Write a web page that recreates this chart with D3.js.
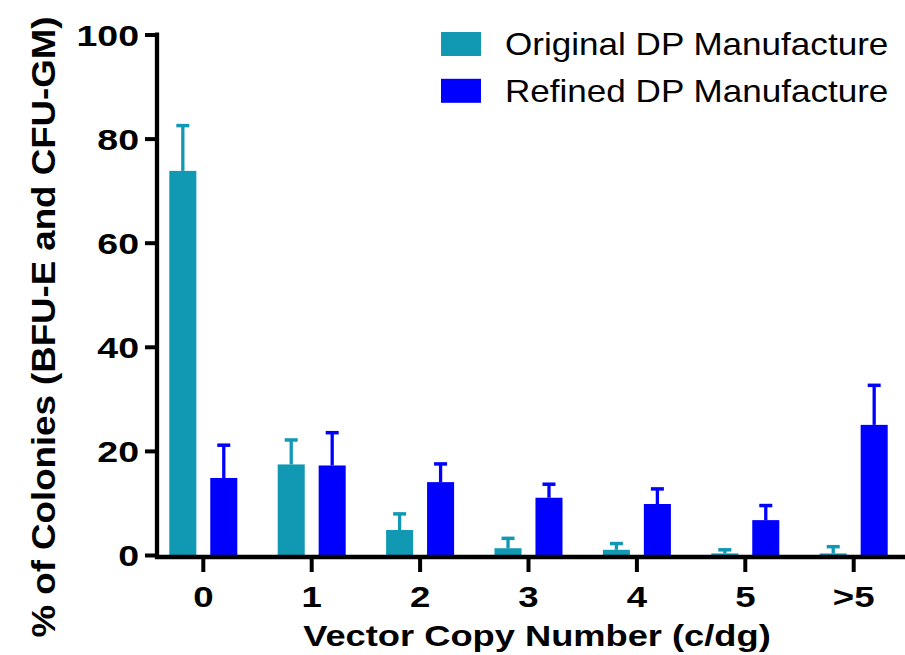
<!DOCTYPE html>
<html>
<head>
<meta charset="utf-8">
<script src="https://cdn.jsdelivr.net/npm/d3@7"></script>
<style>
  body { margin: 0; background: #fff; }
  text { font-family: "Liberation Sans", Arial, sans-serif; fill: #000; }
</style>
</head>
<body>
<svg id="canvas"></svg>
<script>
const categories = ["0", "1", "2", "3", "4", "5", ">5"];
const seriesNames = ["Original DP Manufacture", "Refined DP Manufacture"];
const originalMean = [73.8, 17.4, 4.8, 1.3, 1.0, 0.3, 0.3];
const originalErr = [8.7, 4.7, 3.1, 1.9, 1.2, 0.7, 1.3];
const refinedMean = [14.8, 17.2, 14.0, 11.0, 9.8, 6.7, 25.0];
const refinedErr = [6.3, 6.3, 3.5, 2.6, 2.9, 2.8, 7.6];
const yTicks = [0, 20, 40, 60, 80, 100];
const colors = ["#1199b4", "#0000ff"];

const width = 905;
const height = 655;
const stretch = 1.22; // text in the picture is wider than it is tall

const svg = d3.select("#canvas").attr("width", width).attr("height", height);

const xScale = d3.scaleBand().domain(categories).range([149.1, 907.9]);
const subScale = d3.scaleBand().domain(seriesNames).range([-34, 34]).paddingInner(0.34);
const yScale = d3.scaleLinear().domain([0, 100]).range([555, 34.5]);

const rows = [];
categories.forEach((c, i) => {
    rows.push({cat: c, series: seriesNames[0], value: originalMean[i], err: originalErr[i], color: colors[0]});
    rows.push({cat: c, series: seriesNames[1], value: refinedMean[i], err: refinedErr[i], color: colors[1]});
});
const center = c => xScale(c) + xScale.bandwidth() / 2;

// bars
const barGroup = svg.append("g").classed("bars", true);
barGroup.selectAll("rect")
    .data(rows)
    .join("rect")
    .attr("x", d => center(d.cat) + subScale(d.series))
    .attr("width", subScale.bandwidth())
    .attr("y", d => yScale(d.value))
    .attr("height", d => yScale(0) - yScale(d.value))
    .attr("fill", d => d.color);

// error bars (upper only)
const errGroup = svg.append("g").classed("errors", true);
errGroup.selectAll("line.stem")
    .data(rows)
    .join("line")
    .classed("stem", true)
    .attr("x1", d => center(d.cat) + subScale(d.series) + subScale.bandwidth() / 2)
    .attr("x2", d => center(d.cat) + subScale(d.series) + subScale.bandwidth() / 2)
    .attr("y1", d => yScale(d.value))
    .attr("y2", d => yScale(d.value + d.err))
    .attr("stroke", d => d.color)
    .attr("stroke-width", 3.3);
errGroup.selectAll("line.cap")
    .data(rows)
    .join("line")
    .classed("cap", true)
    .attr("x1", d => center(d.cat) + subScale(d.series) + subScale.bandwidth() / 2 - 6.5)
    .attr("x2", d => center(d.cat) + subScale(d.series) + subScale.bandwidth() / 2 + 6.5)
    .attr("y1", d => yScale(d.value + d.err))
    .attr("y2", d => yScale(d.value + d.err))
    .attr("stroke", d => d.color)
    .attr("stroke-width", 3.5);

// y axis
const yAxisX = 157;
const yGroup = svg.append("g").classed("yGroup", true).attr("transform", `translate(${yAxisX},0)`);
yGroup.call(d3.axisLeft(yScale).tickValues(yTicks).tickSize(12).tickSizeOuter(0).tickFormat(d3.format("d")))
    .call(g => g.select(".domain").remove())
    .call(g => g.selectAll(".tick line").attr("stroke", "#000").attr("stroke-width", 4))
    .call(g => g.selectAll(".tick text").remove());
yGroup.append("line")
    .attr("x1", 0).attr("x2", 0)
    .attr("y1", yScale(100) - 2).attr("y2", 559)
    .attr("stroke", "#000").attr("stroke-width", 4.3);
yGroup.selectAll("text.ylab")
    .data(yTicks)
    .join("text")
    .classed("ylab", true)
    .attr("transform", d => `translate(-18,${yScale(d) + 11}) scale(1.25,1)`)
    .attr("text-anchor", "end")
    .style("font-size", "30px")
    .style("font-weight", "bold")
    .text(d => d);

// x axis
const xGroup = svg.append("g").classed("xGroup", true).attr("transform", `translate(0,557)`);
xGroup.append("line")
    .attr("x1", 155).attr("x2", 905)
    .attr("y1", 0).attr("y2", 0)
    .attr("stroke", "#000").attr("stroke-width", 4.5);
xGroup.selectAll("line.tick")
    .data(categories)
    .join("line")
    .classed("tick", true)
    .attr("x1", d => center(d)).attr("x2", d => center(d))
    .attr("y1", 0).attr("y2", 15)
    .attr("stroke", "#000").attr("stroke-width", 4);
xGroup.selectAll("text.xlab")
    .data(categories)
    .join("text")
    .classed("xlab", true)
    .attr("transform", d => `translate(${center(d)},50) scale(${stretch},1)`)
    .attr("text-anchor", "middle")
    .style("font-size", "30px")
    .style("font-weight", "bold")
    .text(d => d);

// axis titles
svg.append("text")
    .attr("transform", `translate(537,646) scale(1.23,1)`)
    .attr("text-anchor", "middle")
    .style("font-size", "29.5px")
    .style("font-weight", "bold")
    .text("Vector Copy Number (c/dg)");

svg.append("text")
    .attr("transform", `translate(55,327) rotate(-90) scale(1.128,1)`)
    .attr("text-anchor", "middle")
    .style("font-size", "32.5px")
    .style("font-weight", "bold")
    .text("% of Colonies (BFU-E and CFU-GM)");

// legend
const legendGroup = svg.append("g").classed("legendGroup", true).attr("transform", "translate(441,32)");
const legendRows = legendGroup.selectAll("g")
    .data(seriesNames)
    .join("g")
    .attr("transform", (d, i) => `translate(0,${i * 46.8})`);
legendRows.append("rect")
    .attr("width", 40).attr("height", 24)
    .attr("fill", (d, i) => colors[i]);
legendRows.append("text")
    .attr("transform", `translate(64,23) scale(1.15,1)`)
    .style("font-size", "30.5px")
    .text(d => d);
</script>
</body>
</html>
